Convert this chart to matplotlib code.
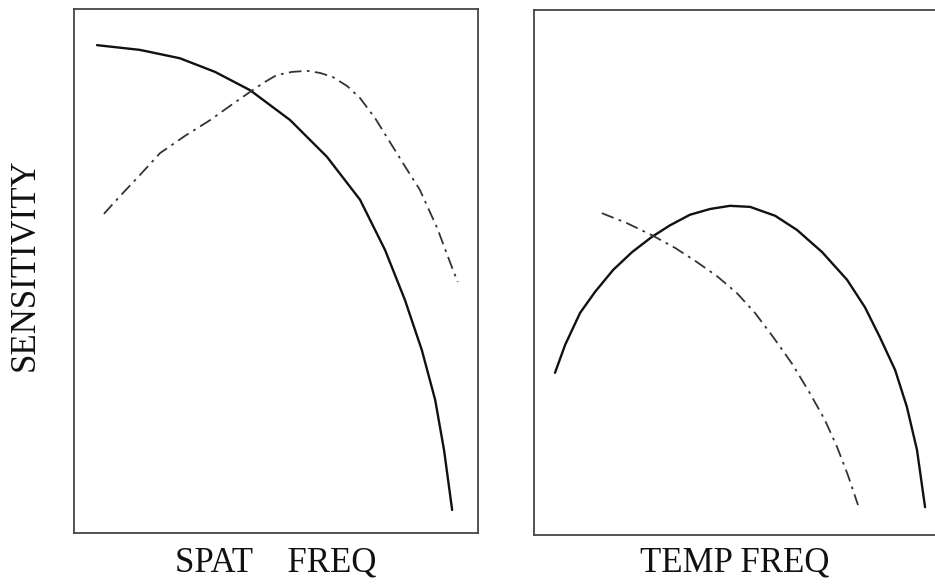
import matplotlib.pyplot as plt

# left panel: spatial frequency
spat_solid_x = [0.057, 0.163, 0.262, 0.349, 0.436, 0.535, 0.626, 0.708, 0.770, 0.819, 0.861, 0.894, 0.916, 0.936]
spat_solid_y = [0.931, 0.922, 0.906, 0.880, 0.845, 0.788, 0.718, 0.636, 0.540, 0.445, 0.349, 0.254, 0.158, 0.044]

spat_dash_x = [0.074, 0.114, 0.163, 0.213, 0.275, 0.337, 0.386, 0.436, 0.473, 0.502, 0.540, 0.577,
               0.609, 0.641, 0.676, 0.708, 0.745, 0.782, 0.819, 0.856, 0.899, 0.938, 0.950]
spat_dash_y = [0.609, 0.643, 0.683, 0.725, 0.758, 0.788, 0.815, 0.842, 0.861, 0.874, 0.880, 0.882,
               0.878, 0.870, 0.853, 0.830, 0.792, 0.746, 0.700, 0.655, 0.582, 0.502, 0.479]

# right panel: temporal frequency
temp_solid_x = [0.052, 0.077, 0.114, 0.151, 0.196, 0.243, 0.292, 0.337, 0.386, 0.436, 0.485,
                0.535, 0.597, 0.651, 0.713, 0.775, 0.819, 0.856, 0.894, 0.923, 0.948, 0.968]
temp_solid_y = [0.309, 0.362, 0.423, 0.463, 0.505, 0.539, 0.568, 0.590, 0.610, 0.621, 0.627,
                0.625, 0.608, 0.581, 0.539, 0.486, 0.434, 0.377, 0.314, 0.244, 0.162, 0.053]

temp_dash_x = [0.168, 0.230, 0.292, 0.349, 0.403, 0.453, 0.502, 0.547, 0.592, 0.639, 0.683, 0.720, 0.750, 0.777, 0.802]
temp_dash_y = [0.613, 0.594, 0.571, 0.547, 0.520, 0.493, 0.461, 0.423, 0.377, 0.326, 0.270, 0.219, 0.168, 0.114, 0.057]

plt.rcParams['font.family'] = ['Liberation Serif', 'DejaVu Serif']

fig = plt.figure(figsize=(9.35, 5.88), dpi=100)
ax1 = fig.add_axes([74 / 935, 55 / 588, 404 / 935, 524 / 588])
ax2 = fig.add_axes([534 / 935, 53 / 588, 404 / 935, 525 / 588])

dash = (0, (7, 3, 1.5, 3))
ax1.plot(spat_solid_x, spat_solid_y, color='#111111', lw=1.7, solid_capstyle='round', solid_joinstyle='round')
ax1.plot(spat_dash_x, spat_dash_y, color='#333333', lw=1.3, linestyle=dash)
ax2.plot(temp_solid_x, temp_solid_y, color='#111111', lw=1.7, solid_capstyle='round', solid_joinstyle='round')
ax2.plot(temp_dash_x, temp_dash_y, color='#333333', lw=1.3, linestyle=dash)

for ax in (ax1, ax2):
    ax.set_xlim(0, 1)
    ax.set_ylim(0, 1)
    ax.set_xticks([])
    ax.set_yticks([])
    for s in ax.spines.values():
        s.set_color('#444444')
        s.set_linewidth(1.3)

fig.text(276 / 935, 1 - 563 / 588, 'SPAT    FREQ', ha='center', va='center', fontsize=25, color='#111111')
fig.text(735 / 935, 1 - 563 / 588, 'TEMP FREQ', ha='center', va='center', fontsize=25, color='#111111')
fig.text(25 / 935, 1 - 265 / 588, 'SENSITIVITY', ha='center', va='center', rotation=90, fontsize=25, color='#111111')

fig.savefig('out.png', dpi=100)
